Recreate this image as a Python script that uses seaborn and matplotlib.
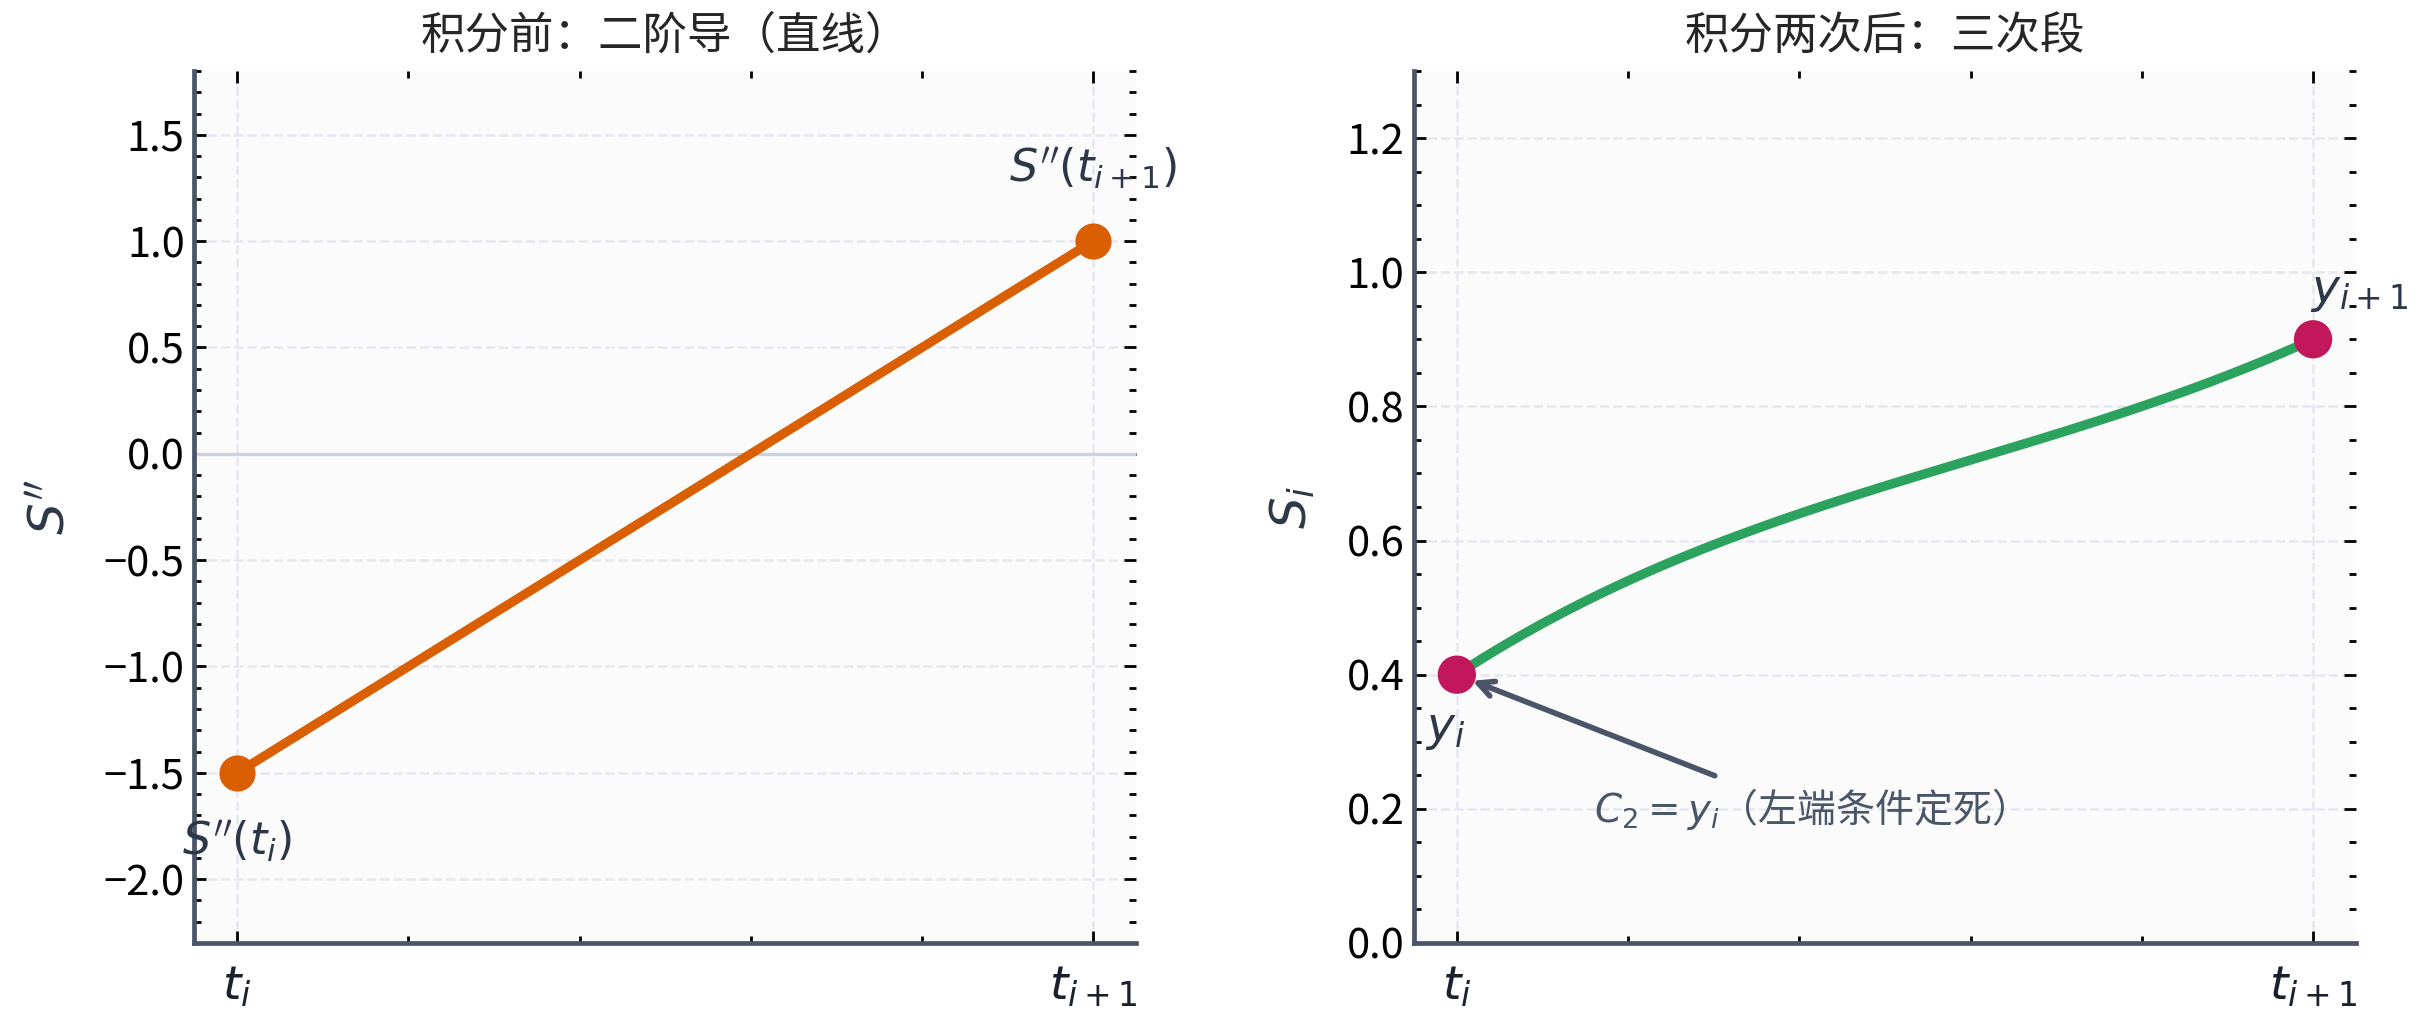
import numpy as np
import pandas as pd
import matplotlib
matplotlib.use("Agg")
import matplotlib.pyplot as plt
from matplotlib.ticker import AutoMinorLocator, FixedLocator
import seaborn as sns

# 数据：区间两端节点、二阶导、函数值
t_nodes = [0.0, 1.0]
s2_values = [-1.5, 1.0]      # S''(t_i), S''(t_{i+1})
y_values = [0.4, 0.9]        # y_i, y_{i+1}
x_tick_labels = [r"$t_i$", r"$t_{i+1}$"]

titles = ["积分前：二阶导（直线）", "积分两次后：三次段"]
ylabels = [r"$S''$", r"$S_i$"]

# 由两端二阶导与函数值积分两次得到三次段
h = t_nodes[1] - t_nodes[0]
M0, M1 = s2_values
y0, y1 = y_values
b = (y1 - y0) / h - h * (2 * M0 + M1) / 6
tt = np.linspace(t_nodes[0], t_nodes[1], 200)
ss = y0 + b * (tt - t_nodes[0]) + M0 / 2 * (tt - t_nodes[0]) ** 2 + (M1 - M0) / (6 * h) * (tt - t_nodes[0]) ** 3
curve = pd.DataFrame({"t": tt, "S": ss})
line_df = pd.DataFrame({"t": t_nodes, "S2": s2_values})
pts_df = pd.DataFrame({"t": t_nodes, "y": y_values})

sns.set_style("ticks")
plt.rcParams['font.family'] = ['Noto Sans CJK SC', 'DejaVu Sans']
plt.rcParams['axes.unicode_minus'] = True
plt.rcParams['mathtext.fontset'] = 'dejavusans'

ORANGE = "#d95f02"
GREEN = "#2ca25f"
PINK = "#c2185b"
SPINE = "#4a5568"
TEXT = "#2d3748"

fig, axes = plt.subplots(1, 2, figsize=(12.15, 5.135), dpi=200)
ax1, ax2 = axes
ax1.set_position([0.0800, 0.0818, 0.3875, 0.8491])
ax2.set_position([0.5819, 0.0818, 0.3876, 0.8491])

for ax in axes:
    ax.set_facecolor("#fbfbfb")
    ax.spines["top"].set_visible(False)
    ax.spines["right"].set_visible(False)
    for s in ["left", "bottom"]:
        ax.spines[s].set_color(SPINE)
        ax.spines[s].set_linewidth(1.7)
    ax.grid(True, which="major", linestyle="--", color="#e6e8ef", linewidth=0.9)
    ax.set_axisbelow(True)
    ax.xaxis.set_major_locator(FixedLocator(t_nodes))
    ax.set_xticklabels(x_tick_labels)
    ax.xaxis.set_minor_locator(AutoMinorLocator())
    ax.yaxis.set_minor_locator(AutoMinorLocator())
    ax.tick_params(which="both", direction="in", top=True, right=True, colors="black")
    ax.tick_params(which="major", length=4.3, width=1.0, labelsize=15)
    ax.tick_params(which="minor", length=2.5, width=1.0)
    ax.tick_params(axis="x", which="major", labelsize=17, pad=7, labelcolor="#1a202c")
    ax.set_xlim(-0.05, 1.05)

# 左图：二阶导直线
ax1.axhline(0, color="#cbd2dc", linewidth=1.2, zorder=1)
sns.lineplot(data=line_df, x="t", y="S2", ax=ax1, color=ORANGE, linewidth=3.3, zorder=3)
ax1.plot(t_nodes, s2_values, "o", color=ORANGE, markersize=12, zorder=4)
ax1.set_ylim(min(s2_values) - 0.8, max(s2_values) + 0.8)
ax1.set_yticks([-2.0, -1.5, -1.0, -0.5, 0.0, 0.5, 1.0, 1.5])
ax1.annotate(r"$S''(t_i)$", (t_nodes[0], s2_values[0]), xytext=(0, -25),
             textcoords="offset points", ha="center", va="center", fontsize=16, color=TEXT)
ax1.annotate(r"$S''(t_{i+1})$", (t_nodes[1], s2_values[1]), xytext=(0, 26),
             textcoords="offset points", ha="center", va="center", fontsize=16, color=TEXT)
ax1.set_title(titles[0], fontsize=16, pad=8)
ax1.set_ylabel(ylabels[0], fontsize=18, color=TEXT, labelpad=10)
ax1.set_xlabel("")

# 右图：三次段
sns.lineplot(data=curve, x="t", y="S", ax=ax2, color=GREEN, linewidth=3.4, zorder=3)
sns.scatterplot(data=pts_df, x="t", y="y", ax=ax2, color=PINK, s=190, edgecolor="none", zorder=4)
ax2.set_ylim(0, 1.3)
ax2.set_yticks([0.0, 0.2, 0.4, 0.6, 0.8, 1.0, 1.2])
ax2.annotate(r"$y_i$", (t_nodes[0], y_values[0]), xytext=(3, -19),
             textcoords="offset points", ha="right", va="center", fontsize=17, color=TEXT)
ax2.annotate(r"$y_{i+1}$", (t_nodes[1], y_values[1]), xytext=(-1, 18),
             textcoords="offset points", ha="left", va="center", fontsize=17, color=TEXT)
ax2.annotate(r"$C_2=y_i$（左端条件定死）", xy=(t_nodes[0], y_values[0]), xytext=(0.4, 0.2),
             ha="center", va="center", fontsize=14, color=SPINE,
             arrowprops=dict(arrowstyle="->", color=SPINE, lw=2, shrinkA=4, shrinkB=6))
ax2.set_title(titles[1], fontsize=16, pad=8)
ax2.set_ylabel(ylabels[1], fontsize=18, color=TEXT, labelpad=10)
ax2.set_xlabel("")

plt.savefig("out.png", dpi=200)
